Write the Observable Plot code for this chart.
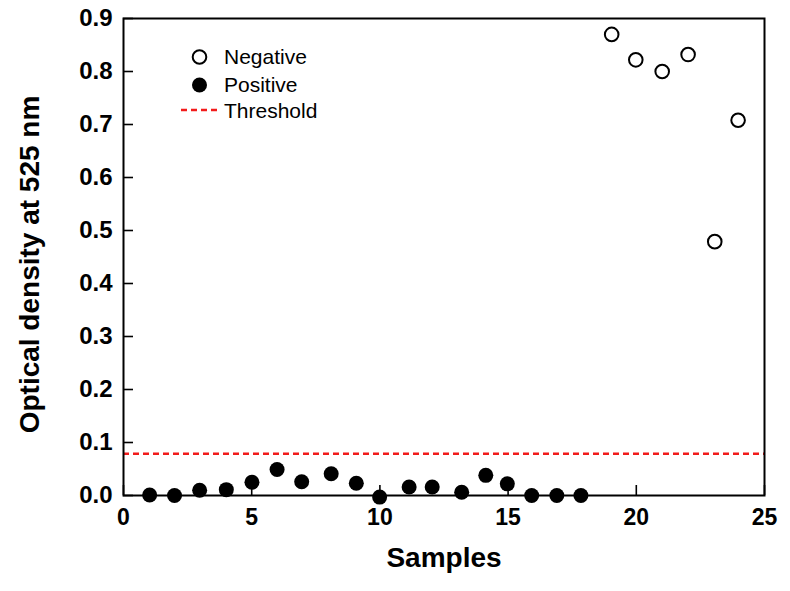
<!DOCTYPE html>
<html>
<head>
<meta charset="utf-8">
<script src="https://cdn.jsdelivr.net/npm/d3@7"></script>
<script src="https://cdn.jsdelivr.net/npm/@observablehq/plot@0.6"></script>
<style>
  html, body { margin: 0; padding: 0; background: #fff; }
  #chart { position: relative; width: 790px; height: 591px; }
</style>
</head>
<body>
<div id="chart"></div>
<script>
// Data
const positiveSample = [1.02, 1.99, 2.97, 4.01, 5.01, 5.99, 6.95, 8.1, 9.08, 9.99, 11.14, 12.04, 13.19, 14.13, 14.97, 15.92, 16.9, 17.84];
const positiveOD = [0.001, 0.000, 0.010, 0.011, 0.025, 0.049, 0.026, 0.041, 0.023, -0.003, 0.016, 0.016, 0.006, 0.038, 0.022, 0.000, 0.000, 0.000];
const negativeSample = [19.04, 19.98, 21.01, 22.02, 23.06, 23.97];
const negativeOD = [0.870, 0.822, 0.800, 0.832, 0.479, 0.708];
const threshold = [0.079];
const xTicks = [0, 5, 10, 15, 20, 25];
const yTicks = [0, 0.1, 0.2, 0.3, 0.4, 0.5, 0.6, 0.7, 0.8, 0.9];
const xTitle = "Samples";
const yTitle = "Optical density at 525 nm";
const legendLabels = ["Negative", "Positive", "Threshold"];

const positive = positiveSample.map((s, i) => ({sample: s, od: positiveOD[i]}));
const negative = negativeSample.map((s, i) => ({sample: s, od: negativeOD[i]}));

const font = "'Liberation Sans', Arial, Helvetica, sans-serif";
const red = "#f21b1b";

const plot = Plot.plot({
  width: 790,
  height: 591,
  marginLeft: 123,
  marginRight: 26,
  marginTop: 18,
  marginBottom: 96,
  style: {fontFamily: font, background: "#fff", color: "#000", overflow: "visible"},
  x: {domain: [0, 25]},
  y: {domain: [0, 0.9]},
  marks: [
    Plot.ruleY(threshold, {stroke: red, strokeWidth: 2.5, strokeDasharray: "6,4"}),
    Plot.axisX({ticks: xTicks, tickSize: -10, tickFormat: () => "", strokeWidth: 1.6, label: null}),
    Plot.axisY({ticks: yTicks, tickSize: -10, tickFormat: () => "", strokeWidth: 1.6, label: null}),
    Plot.axisX({ticks: xTicks, tickSize: 0, tickPadding: 13, tickFormat: d3.format("d"), fontSize: 23, fontWeight: "bold", label: null}),
    Plot.axisY({ticks: yTicks, tickSize: 0, tickPadding: 11, tickFormat: d3.format(".1f"), fontSize: 24, fontWeight: "bold", label: null}),
    Plot.frame({stroke: "#000", strokeWidth: 2}),
    Plot.text([xTitle], {frameAnchor: "bottom", textAnchor: "middle", dy: 71, fontSize: 28, fontWeight: "bold", fill: "#000"}),
    Plot.text([yTitle], {frameAnchor: "left", textAnchor: "middle", rotate: -90, dx: -93, dy: 7.5, fontSize: 28, fontWeight: "bold", fill: "#000"}),
    Plot.dot(positive, {x: "sample", y: "od", r: 7.5, fill: "#000", stroke: "none"}),
    Plot.dot(negative, {x: "sample", y: "od", r: 6.8, fill: "#fff", stroke: "#000", strokeWidth: 2})
  ]
});

document.getElementById("chart").appendChild(plot);

// Legend (inside the plot frame, upper left)
const svg = d3.select(plot);
const lg = svg.append("g").attr("font-family", font).attr("font-size", 21).attr("text-anchor", "start");
lg.append("circle").attr("cx", 199.5).attr("cy", 57).attr("r", 6.8)
  .attr("fill", "#fff").attr("stroke", "#000").attr("stroke-width", 2);
lg.append("circle").attr("cx", 199.5).attr("cy", 85).attr("r", 7.5).attr("fill", "#000");
lg.append("line").attr("x1", 181).attr("x2", 217).attr("y1", 110).attr("y2", 110)
  .attr("stroke", red).attr("stroke-width", 2.5).attr("stroke-dasharray", "6,4");
const ys = [64, 92, 118];
legendLabels.forEach((t, i) => {
  lg.append("text").attr("x", 224).attr("y", ys[i]).attr("fill", "#000").attr("text-anchor", "start").text(t);
});
</script>
</body>
</html>
